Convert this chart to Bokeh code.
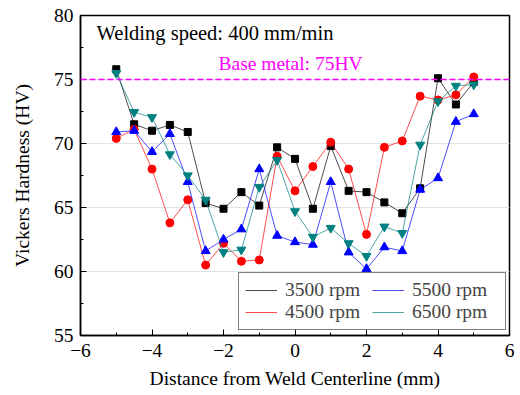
from bokeh.plotting import figure
from bokeh.models import Span, Label, Legend, LegendItem, FixedTicker
from bokeh.embed import file_html
from bokeh.resources import INLINE

distance = [-5, -4.5, -4, -3.5, -3, -2.5, -2, -1.5, -1, -0.5, 0,
            0.5, 1, 1.5, 2, 2.5, 3, 3.5, 4, 4.5, 5]
hv_3500 = [75.8, 71.5, 71.0, 71.45, 70.9, 65.35, 64.9, 66.2, 65.15, 69.7, 68.8,
           64.9, 69.8, 66.3, 66.2, 65.4, 64.55, 66.5, 75.1, 73.05, 74.8]
hv_4500 = [70.4, 71.1, 68.0, 63.8, 65.6, 60.5, 62.2, 60.8, 60.9, 69.0, 66.3,
           68.2, 70.1, 68.0, 62.9, 69.7, 70.2, 73.7, 73.4, 73.8, 75.2]
hv_5500 = [70.9, 71.0, 69.35, 70.75, 67.0, 61.6, 62.5, 63.3, 68.0, 62.8, 62.3,
           62.1, 67.0, 61.5, 60.2, 61.9, 61.6, 66.4, 67.3, 71.7, 72.3]
hv_6500 = [75.5, 72.45, 72.05, 69.15, 67.5, 65.6, 61.5, 61.7, 66.6, 68.7, 64.7,
           62.7, 63.4, 62.2, 61.2, 63.5, 63.0, 69.9, 73.3, 74.5, 74.6]
series_labels = ["3500 rpm", "4500 rpm", "5500 rpm", "6500 rpm"]
base_metal_hv = 75
x_ticks = [-6, -4, -2, 0, 2, 4, 6]
x_minor = [-5, -3, -1, 1, 3, 5]
y_ticks = [55, 60, 65, 70, 75, 80]
y_minor = [57.5, 62.5, 67.5, 72.5, 77.5]

FONT = "Liberation Serif"

p = figure(width=520, height=395, x_range=(-6, 6), y_range=(55, 80),
           output_backend="svg", toolbar_location=None,
           min_border_left=80, min_border_right=11, min_border_top=15,
           min_border_bottom=60)

p.outline_line_color = "black"
p.outline_line_width = 1.5
p.xgrid.grid_line_color = None
p.ygrid.grid_line_color = "#e2e2e2"
p.ygrid.grid_line_width = 1.2

for ax, ticks, minor in ((p.xaxis[0], x_ticks, x_minor), (p.yaxis[0], y_ticks, y_minor)):
    ax.ticker = FixedTicker(ticks=ticks, minor_ticks=minor)
    ax.axis_line_color = "black"
    ax.axis_line_width = 1.5
    ax.major_tick_in = 6
    ax.major_tick_out = 0
    ax.minor_tick_in = 3
    ax.minor_tick_out = 0
    ax.major_tick_line_color = "black"
    ax.minor_tick_line_color = "black"
    ax.major_label_text_font = FONT
    ax.major_label_text_font_size = "19.5px"
    ax.major_label_text_color = "black"
    ax.axis_label_text_font = FONT
    ax.axis_label_text_font_size = "19.5px"
    ax.axis_label_text_font_style = "normal"
    ax.axis_label_text_color = "black"

p.xaxis.axis_label = "Distance from Weld Centerline (mm)"
p.yaxis.axis_label = "Vickers Hardness (HV)"
p.xaxis.major_label_standoff = 8
p.xaxis.axis_label_standoff = 8
p.yaxis.major_label_standoff = 7
p.yaxis.axis_label_standoff = 18

p.add_layout(Span(location=base_metal_hv, dimension="width", line_color="#FF00FF",
                  line_dash="6 3", line_width=1.5))

colors = ["black", "#FF0000", "#0000FF", "#008080"]
markers = ["square", "circle", "triangle", "inverted_triangle"]
sizes = [7, 8, 9, 9]
data = [hv_3500, hv_4500, hv_5500, hv_6500]

items = []
for ys, c, m, s, lab in zip(data, colors, markers, sizes, series_labels):
    r = p.line(distance, ys, line_color=c, line_width=1, line_alpha=0.7)
    p.scatter(distance, ys, marker=m, size=s, fill_color=c, line_color=c)
    items.append(LegendItem(label=lab, renderers=[r]))

legend = Legend(items=items, ncols=2, location=(158, 5),
                label_text_font=FONT, label_text_font_size="19.5px",
                glyph_width=32, glyph_height=20, label_standoff=8,
                label_width=87, label_height=22, padding=6, spacing=0,
                border_line_color="black", border_line_width=1.2,
                background_fill_color="white", background_fill_alpha=1)
p.add_layout(legend)

p.add_layout(Label(x=-5.55, y=78.6, text="Welding speed: 400 mm/min",
                   text_font=FONT, text_font_size="20.5px", text_baseline="middle",
                   text_color="black"))
p.add_layout(Label(x=-2.14, y=76.25, text="Base metal: 75HV",
                   text_font=FONT, text_font_size="19.5px", text_baseline="middle",
                   text_color="#FF00FF"))

open("out.html", "w").write(file_html(p, INLINE))
